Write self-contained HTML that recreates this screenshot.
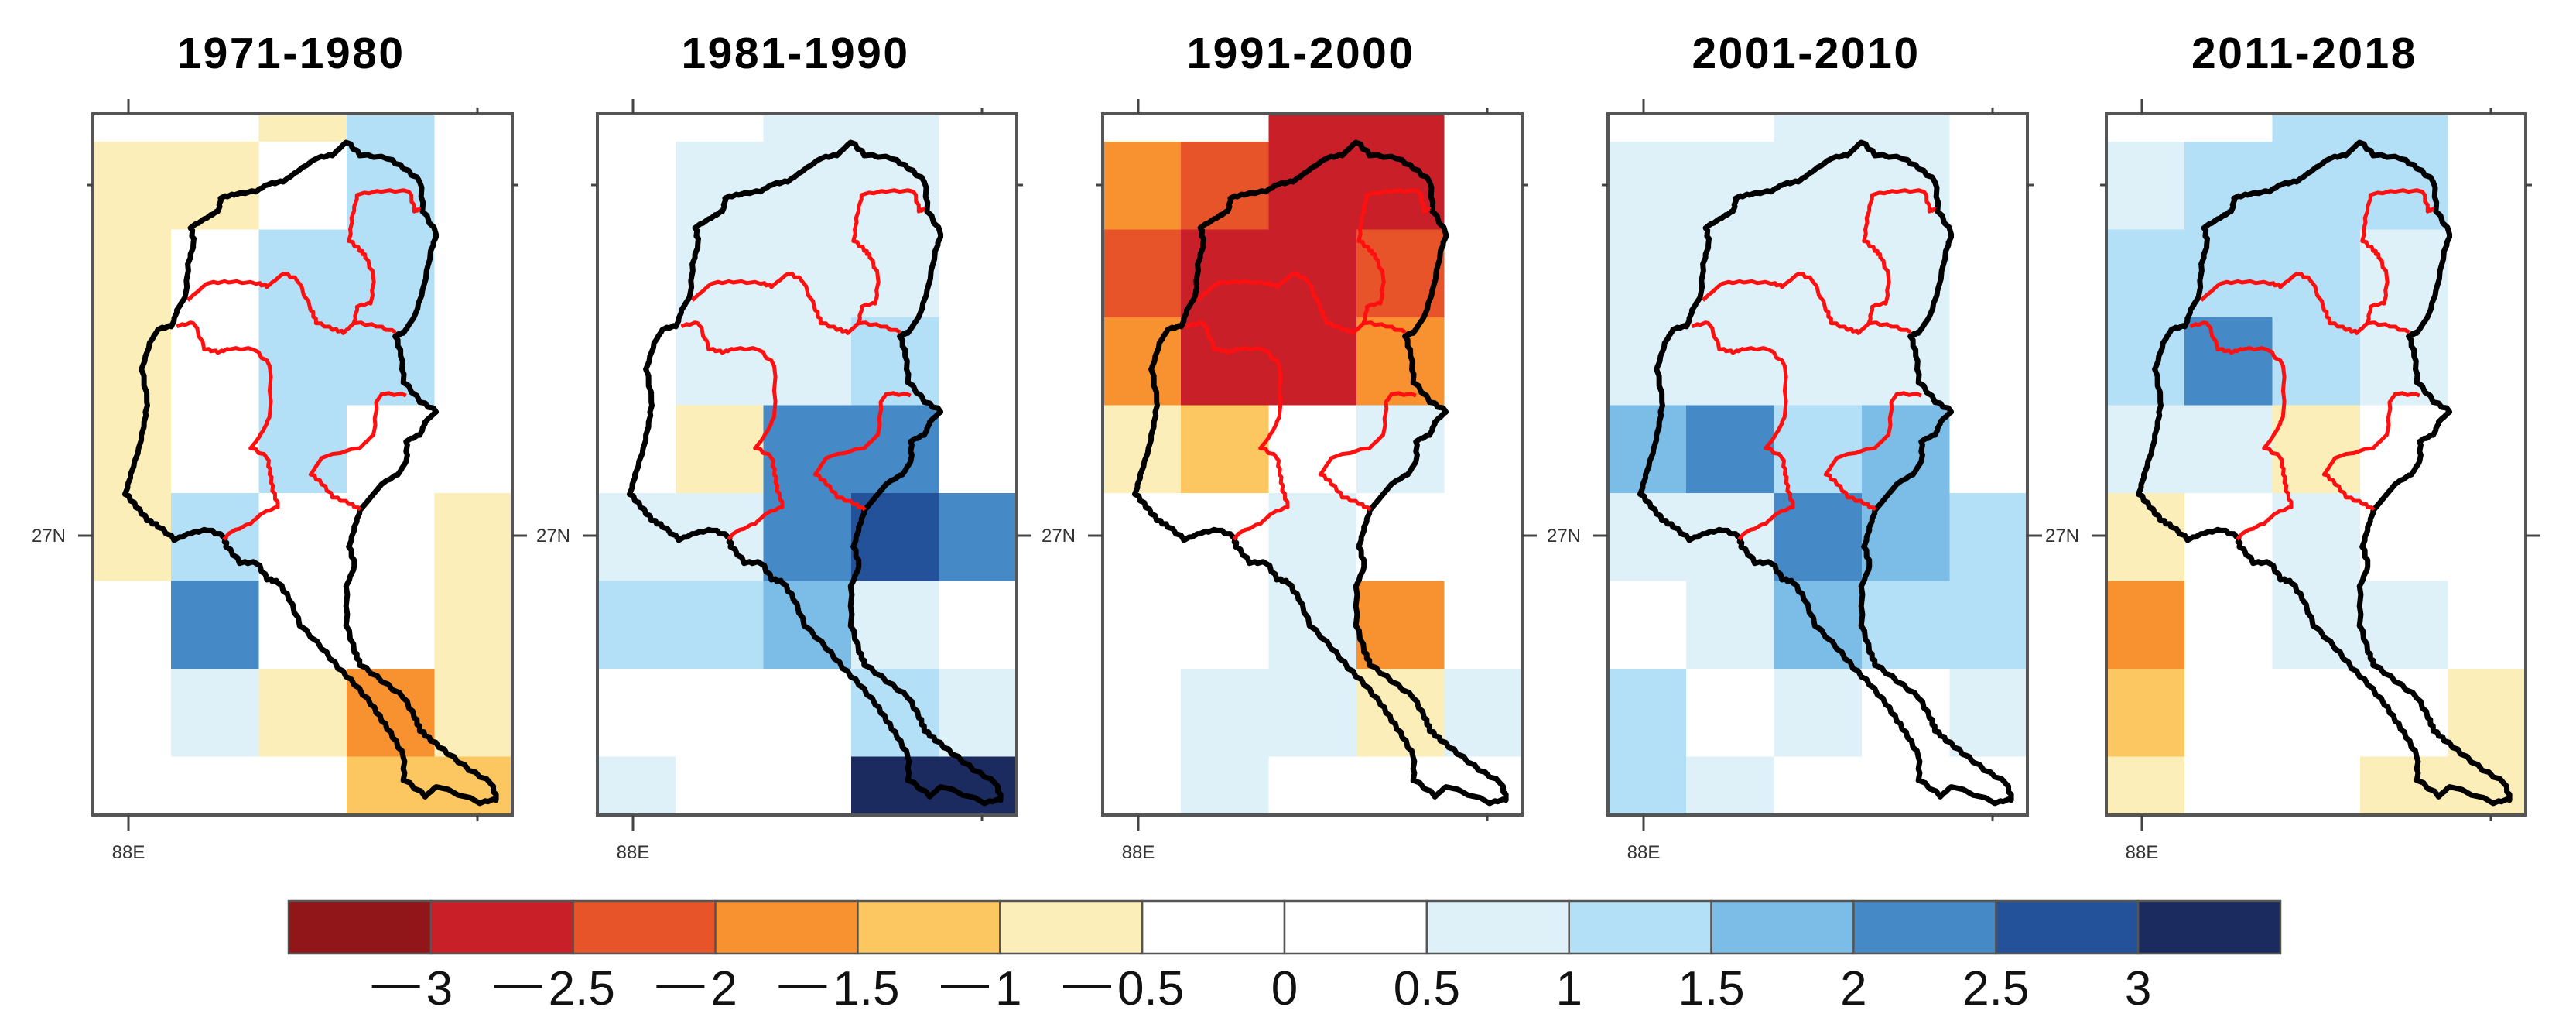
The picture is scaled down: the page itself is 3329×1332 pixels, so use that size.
<!DOCTYPE html>
<html><head><meta charset="utf-8"><style>
html,body{margin:0;padding:0;background:#fff;}
svg{display:block;}
</style></head><body>
<svg id="fig" width="3329" height="1332" viewBox="0 0 3329 1332" xmlns="http://www.w3.org/2000/svg">
<g id="panels"></g>
<g id="cbar"></g>
</svg>
<script>
// ---- data ----
const periods = ["1971-1980","1981-1990","1991-2000","2001-2010","2011-2018"];
const levels = ["-3","-2.5","-2","-1.5","-1","-0.5","0","0.5","1","1.5","2","2.5","3"];
const classColors = ["#901619","#C91F28","#E8542A","#F8912F","#FCC760","#FCEEB8","#FFFFFF","#FFFFFF","#DEF0F8","#B3E0F6","#7BBDE6","#4689C7","#23529B","#1C2B5F"];
// class index per grid cell (9 rows x 5 cols)
const grid1971 = [
 [6,6,5,9,6],[5,5,6,9,6],[5,6,9,9,6],[5,6,9,9,6],[5,6,9,6,6],
 [5,9,6,6,5],[6,11,6,6,5],[6,8,5,3,5],[6,6,6,4,4]];
const grid1981 = [
 [6,6,8,8,6],[6,8,8,8,6],[6,8,8,8,6],[6,8,8,9,6],[6,5,11,11,6],
 [8,8,11,12,11],[9,9,10,8,6],[6,6,6,9,8],[8,6,6,13,13]];
const grid1991 = [
 [6,6,1,1,6],[3,2,1,1,6],[2,1,1,2,6],[3,1,1,3,6],[5,4,6,8,6],
 [6,6,8,6,6],[6,6,8,3,6],[6,8,8,5,8],[6,8,6,6,6]];
const grid2001 = [
 [6,6,8,8,6],[8,8,8,8,6],[8,8,8,8,6],[8,8,8,8,6],[10,11,9,10,6],
 [8,8,11,10,9],[6,8,10,9,9],[9,6,8,6,8],[9,8,6,6,6]];
const grid2011 = [
 [6,6,9,9,6],[8,9,9,9,6],[9,9,9,8,6],[9,11,9,8,6],[8,8,5,6,6],
 [5,6,8,6,6],[3,6,8,8,6],[4,6,6,6,5],[5,6,6,5,5]];
const grids = [grid1971,grid1981,grid1991,grid2001,grid2011];

// ---- layout ----
const NS="http://www.w3.org/2000/svg";
const panelLeft=[120,772,1425,2078,2722], PW=542, PT=147, PH=906;
const cw=113.5, c0=-12.5, rh=113.5, r0=36-113.5;
function colX(c){return Math.max(0,Math.min(PW,c0+c*cw));}
function rowY(r){return Math.max(0,Math.min(PH,r0+r*rh));}
function mk(tag,attrs,parent){const e=document.createElementNS(NS,tag);for(const k in attrs)e.setAttribute(k,attrs[k]);parent.appendChild(e);return e;}

const outline=[[635,215],[660,235],[710,240],[740,255],[770,275],[775,320],[800,355],[790,380],[775,440],[760,480],[740,505],[725,510],[735,540],[740,580],[770,610],[800,625],[780,640],[770,660],[745,670],[745,700],[730,720],[700,735],[680,755],[660,775],[650,800],[640,830],[650,860],[635,890],[635,950],[650,990],[660,1010],[700,1035],[740,1060],[760,1090],[770,1110],[790,1125],[820,1145],[860,1170],[900,1190],[910,1215],[880,1220],[800,1195],[780,1210],[740,1185],[740,1150],[720,1120],[700,1095],[680,1070],[650,1040],[620,1015],[590,985],[550,950],[530,910],[510,885],[490,880],[470,855],[440,855],[415,830],[410,815],[380,805],[350,810],[320,820],[290,800],[270,790],[250,770],[230,750],[240,720],[255,680],[265,640],[270,610],[260,560],[275,520],[290,500],[315,495],[325,470],[340,450],[345,400],[355,370],[350,345],[380,330],[400,320],[405,300],[430,295],[470,290],[490,280],[520,275],[545,260],[580,240],[610,235]];
const subLines=[
 [[345,455],[380,430],[420,428],[470,430],[490,435],[520,415],[545,425],[570,470],[580,490],[610,500],[630,505],[650,490],[690,495],[725,505]],
 [[648,492],[655,465],[680,460],[685,420],[670,390],[660,380],[640,365],[645,330],[655,295],[700,290],[750,290],[760,320],[770,318]],
 [[325,495],[355,490],[375,530],[400,535],[420,530],[465,530],[495,555],[495,630],[485,650],[470,670],[460,680],[490,695],[495,720],[500,745],[510,770],[480,780],[460,795],[420,810],[410,820]],
 [[745,600],[700,598],[690,610],[685,660],[660,680],[590,695],[570,720],[590,735],[610,755],[640,765],[660,775]]];
function wiggle(pts,px,close){
  let s="";const out=[];
  for(let i=0;i<pts.length;i++){
    const a=pts[i],b=pts[(i+1)%pts.length];
    if(!close&&i==pts.length-1){out.push(a);break;}
    const n=4;
    for(let k=0;k<n;k++){const t=k/n;const j=(k%2?1.2:-1.2);out.push([a[0]+(b[0]-a[0])*t+j,a[1]+(b[1]-a[1])*t-j]);}
  }
  out.forEach((p,i)=>{const x=px+(p[0]-170)*0.708*PW/544, y=149+(p[1]-175)/1.177;s+=(i?"L":"M")+x.toFixed(1)+","+y.toFixed(1);});
  return s+(close?"Z":"");
}

const panels=document.getElementById('panels');
periods.forEach((per,pi)=>{
  const px=panelLeft[pi];
  const g=mk('g',{},panels);
  
  
  const t=mk('text',{x:px+PW/2-15,y:88,'text-anchor':'middle','font-family':'"Liberation Sans", sans-serif','font-weight':'bold','font-size':57,'letter-spacing':2.5,fill:'#000'},g);
  t.textContent=per;
  
  
  const cells=mk('g',{},g);
  
  
  grids[pi].forEach((row,r)=>row.forEach((v,c)=>{
    const x0=colX(c),x1=colX(c+1),y0=rowY(r),y1=rowY(r+1);
    const rc=mk('rect',{x:px+x0,y:PT+y0,width:x1-x0+0.5,height:y1-y0+0.5,fill:classColors[v]},cells);
    
    
  }));
  const ol=mk('path',{d:wiggle(outline,px,true),fill:'none',stroke:'#000','stroke-width':7,'stroke-linejoin':'round'},g);
  
  
  subLines.forEach(L=>{
    const sl=mk('path',{d:wiggle(L,px,false),fill:'none',stroke:'#FF1010','stroke-width':5,'stroke-linejoin':'round'},g);
    
    
  });
  const fr=mk('rect',{x:px,y:PT,width:PW,height:PH,fill:'none',stroke:'#555','stroke-width':4},g);
  
  
  const tk=mk('g',{stroke:'#444','stroke-width':3},g);
  
  
  const tx1=px+46, tx2=px+497, ty1=PT+92, ty2=PT+545;
  mk('line',{x1:tx1,y1:PT,x2:tx1,y2:PT-19},tk);
  mk('line',{x1:tx2,y1:PT,x2:tx2,y2:PT-8},tk);
  mk('line',{x1:tx1,y1:PT+PH,x2:tx1,y2:PT+PH+20},tk);
  mk('line',{x1:tx2,y1:PT+PH,x2:tx2,y2:PT+PH+8},tk);
  mk('line',{x1:px,y1:ty2,x2:px-19,y2:ty2},tk);
  mk('line',{x1:px,y1:ty1,x2:px-8,y2:ty1},tk);
  mk('line',{x1:px+PW,y1:ty2,x2:px+PW+19,y2:ty2},tk);
  mk('line',{x1:px+PW,y1:ty1,x2:px+PW+8,y2:ty1},tk);
  const lx=mk('text',{x:tx1,y:PT+PH+56,'text-anchor':'middle','font-family':'"Liberation Sans", sans-serif','font-size':24,fill:'#333'},g);
  lx.textContent='88E';
  
  
  const ly=mk('text',{x:px-57,y:ty2+8,'text-anchor':'middle','font-family':'"Liberation Sans", sans-serif','font-size':24,fill:'#333'},g);
  ly.textContent='27N';
  
  
});

// colorbar
const cb=document.getElementById('cbar');
const CBL=373, CBR=2947, CBT=1164, CBH=68;
const bw=(CBR-CBL)/classColors.length;
classColors.forEach((col,i)=>{
  const r=mk('rect',{x:CBL+i*bw,y:CBT,width:bw,height:CBH,fill:col,stroke:'#555','stroke-width':2.5},cb);
  
  
});
levels.forEach((lv,i)=>{
  const bx=CBL+(i+1)*bw;
  const neg=lv.startsWith('-');const num=neg?lv.slice(1):lv;
  const cx=neg?bx+11:bx;
  const tn=mk('text',{x:cx,y:1298,'text-anchor':'middle','font-family':'"Liberation Sans", sans-serif','font-size':62,fill:'#111'},cb);
  tn.textContent=num;
  
  
  if(neg){
    const w=(num.length===1?0.556:1.39)*62;
    const tm=mk('text',{x:cx-w/2-8,y:1290,'text-anchor':'end','font-family':'"Liberation Sans", sans-serif','font-size':62,fill:'#111'},cb);
    tm.textContent='\u2014';
    
    
  }
});
</script>
</body></html>
